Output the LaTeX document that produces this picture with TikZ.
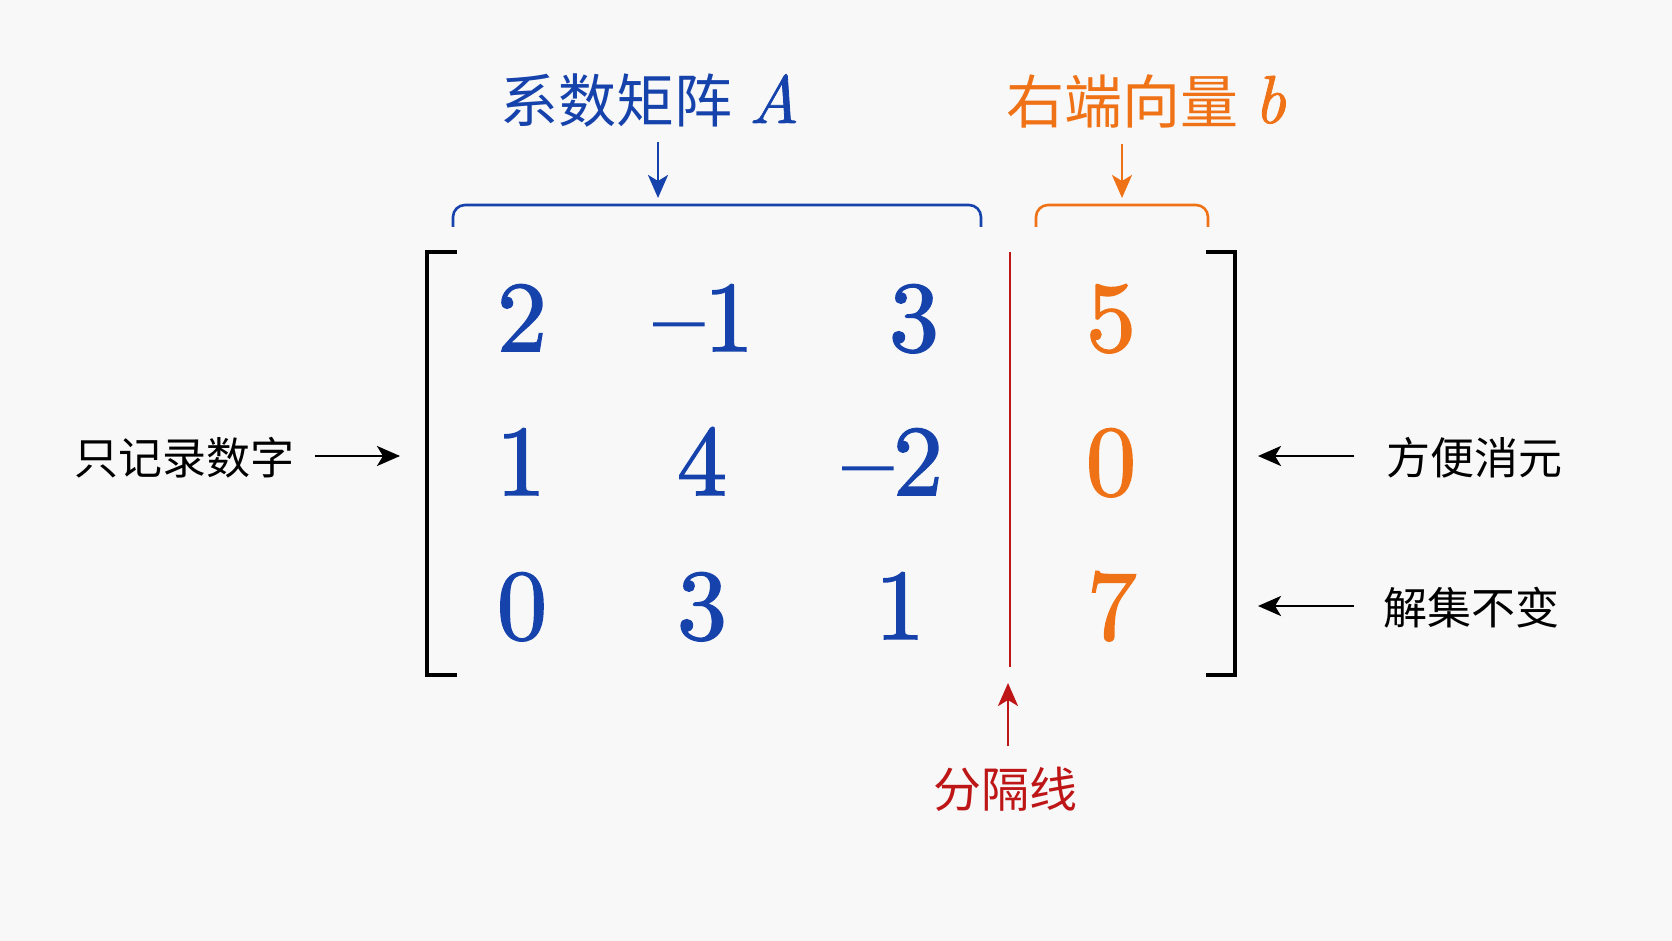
\documentclass[tikz,border=0pt]{standalone}
\usepackage{fontspec}
\newfontfamily\cjk{Noto Sans CJK SC}
\newfontfamily\numfont{lmroman10-regular.otf}[FakeBold=1.6]
\newfontfamily\itfont{lmroman10-italic.otf}[FakeBold=1.2]
\usetikzlibrary{arrows.meta}
\definecolor{mblue}{RGB}{22,66,172}
\definecolor{morange}{RGB}{240,114,22}
\definecolor{mred}{RGB}{190,22,22}
\definecolor{bgc}{RGB}{248,248,248}
\begin{document}
\begin{tikzpicture}[x=1pt,y=-1pt,
  num/.style={anchor=base,inner sep=0pt,font=\fontsize{100}{100}\numfont},
  title/.style={inner sep=0pt,font=\fontsize{58}{62}\selectfont\cjk},
  side/.style={inner sep=0pt,font=\fontsize{44}{48}\selectfont\cjk},
  arr/.style={line width=2.8pt,-{Stealth[length=23pt,width=20pt,inset=6pt]}},
  brace/.style={line width=2.6pt,rounded corners=12pt},
  bracket/.style={line width=4pt,line cap=rect}]
\fill[bgc] (0,0) rectangle (1672,941);
\useasboundingbox (0,0) rectangle (1672,941);
% brackets
\draw[bracket] (455,252) -- (427,252) -- (427,675) -- (455,675);
\draw[bracket] (1208,252) -- (1235,252) -- (1235,675) -- (1208,675);
% separator
\coordinate (septop) at (1010,252);
\coordinate (sepbot) at (1010,667);
\draw[mred,line width=2.4pt] (septop) -- (sepbot);
% entries
\node[num,mblue] (a11) at (522,351) {2};
\node[num,mblue] (a12) at (704,351) {–1};
\node[num,mblue] (a13) at (914,351) {3};
\node[num,morange] (b1) at (1111,351) {5};
\node[num,mblue] (a21) at (521,495) {1};
\node[num,mblue] (a22) at (702,495) {4};
\node[num,mblue] (a23) at (893,495) {–2};
\node[num,morange] (b2) at (1111,495) {0};
\node[num,mblue] (a31) at (522,639) {0};
\node[num,mblue] (a32) at (702,639) {3};
\node[num,mblue] (a33) at (900,639) {1};
\node[num,morange] (b3) at (1112,639) {7};
% braces
\coordinate (bA1) at (453,227);
\coordinate (bA2) at (981,227);
\coordinate (bAtip) at (658,198);
\draw[brace,mblue] (bA1) |- (717,205) -| (bA2);
\coordinate (bb1) at (1036,227);
\coordinate (bb2) at (1208,227);
\coordinate (bbtip) at (1122,198);
\draw[brace,morange] (bb1) |- (1122,205) -| (bb2);
% titles
\node[title,mblue] (tA) at (650,101) {系数矩阵\hspace{16pt}{\fontsize{68}{70}\itfont A}};
\node[title,morange] (tb) at (1146,101) {右端向量\hspace{16pt}{\fontsize{68}{70}\itfont b}};
\coordinate (tAarr) at (658,142);
\coordinate (tbarr) at (1122,144);
\draw[arr,mblue] (tAarr) -- (bAtip);
\draw[arr,morange] (tbarr) -- (bbtip);
% separator label
\node[title,mred,font=\fontsize{48}{52}\selectfont\cjk] (sep) at (1005,789) {分隔线};
\coordinate (sepA) at (1008,746);
\coordinate (sepB) at (1008,683);
\draw[arr,mred] (sepA) -- (sepB);
% side labels
\node[side] (l1) at (184,458) {只记录数字};
\coordinate (l1a) at (315,456);
\coordinate (l1b) at (400,456);
\draw[arr] (l1a) -- (l1b);
\node[side] (r1) at (1474,458) {方便消元};
\coordinate (r1a) at (1354,456);
\coordinate (r1b) at (1258,456);
\draw[arr] (r1a) -- (r1b);
\node[side] (r2) at (1471,608) {解集不变};
\coordinate (r2a) at (1354,606);
\coordinate (r2b) at (1258,606);
\draw[arr] (r2a) -- (r2b);
\end{tikzpicture}
\end{document}
